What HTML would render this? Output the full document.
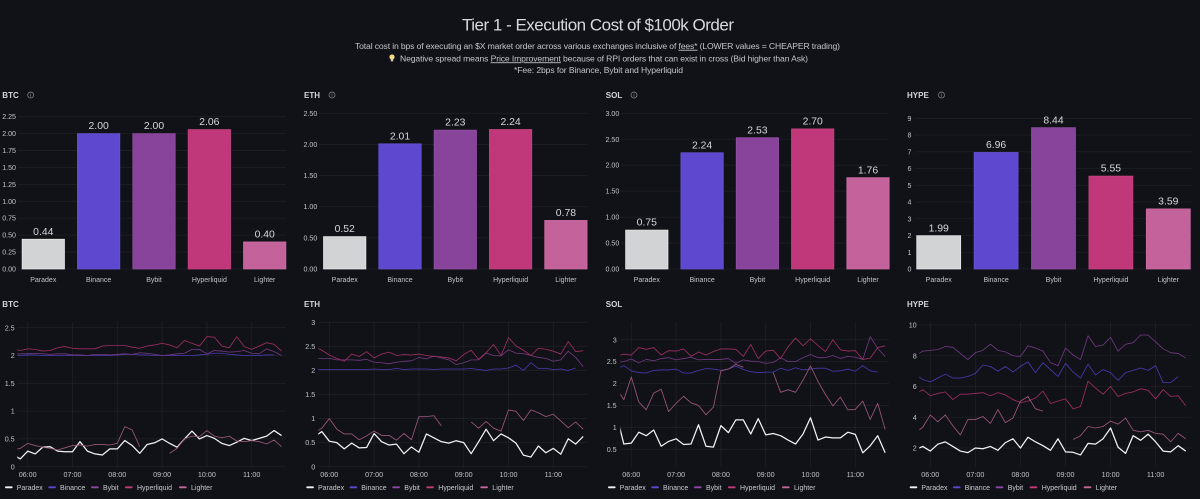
<!DOCTYPE html>
<html lang="en">
<head>
<meta charset="utf-8">
<title>Tier 1 - Execution Cost of $100k Order</title>
<style>
html,body{margin:0;padding:0;background:#111217;width:1200px;height:499px;overflow:hidden}
svg{display:block;font-family:"Liberation Sans",sans-serif;filter:blur(0.3px)}
</style>
</head>
<body>
<svg id="dash" width="1200" height="499" viewBox="0 0 1200 499" xmlns="http://www.w3.org/2000/svg">
  <rect width="1200" height="499" fill="#111217"/>
  <text x="598" y="30.5" text-anchor="middle" font-size="17" fill="#d8d9de" textLength="272" lengthAdjust="spacing">Tier 1 - Execution Cost of $100k Order</text>
  <text x="597.5" y="48.8" text-anchor="middle" font-size="8.6" fill="#c4c5cc" textLength="485" lengthAdjust="spacing">Total cost in bps of executing an $X market order across various exchanges inclusive of <tspan text-decoration="underline">fees*</tspan> (LOWER values = CHEAPER trading)</text>
  <g>
    <circle cx="392" cy="57" r="2.6" fill="#f5d98a"/>
    <rect x="390.8" y="59.2" width="2.4" height="2.2" fill="#cfc9b0"/>
  </g>
  <text x="400" y="61.3" font-size="8.6" fill="#c4c5cc" textLength="408" lengthAdjust="spacing">Negative spread means <tspan text-decoration="underline">Price Improvement</tspan> because of RPI orders that can exist in cross (Bid higher than Ask)</text>
  <text x="514" y="73.2" font-size="8.6" fill="#c4c5cc" textLength="169" lengthAdjust="spacing">*Fee: 2bps for Binance, Bybit and Hyperliquid</text>
  <g id="bars-root"></g>
  <g id="lines-root"></g>
</svg>
<script>
// ---------- shared categories ----------
const exchanges = ["Paradex", "Binance", "Bybit", "Hyperliquid", "Lighter"];
const hourLabels = ["06:00", "07:00", "08:00", "09:00", "10:00", "11:00"];
const hourOffsets = [0, 60, 120, 180, 240, 300];

// ---------- bar chart values (bps) ----------
const barBTC = [0.44, 2.00, 2.00, 2.06, 0.40];
const barETH = [0.52, 2.01, 2.23, 2.24, 0.78];
const barSOL = [0.75, 2.24, 2.53, 2.70, 1.76];
const barHYPE = [1.99, 6.96, 8.44, 5.55, 3.59];

const barTicksBTC = ["0.00", "0.25", "0.50", "0.75", "1.00", "1.25", "1.50", "1.75", "2.00", "2.25"];
const barTicksETH = ["0.00", "0.50", "1.00", "1.50", "2.00", "2.50"];
const barTicksSOL = ["0.00", "0.50", "1.00", "1.50", "2.00", "2.50", "3.00"];
const barTicksHYPE = ["0", "1", "2", "3", "4", "5", "6", "7", "8", "9"];

const lineTicksBTC = ["0", "0.5", "1", "1.5", "2", "2.5"];
const lineTicksETH = ["0", "0.5", "1", "1.5", "2", "2.5", "3"];
const lineTicksSOL = ["0.5", "1", "1.5", "2", "2.5", "3"];
const lineTicksHYPE = ["2", "4", "6", "8", "10"];

// ---------- time series: 10-minute samples, 05:40 through 11:40 ----------
const btcParadex = [0.22,0.14,0.28,0.23,0.35,0.36,0.28,0.27,
  0.27,0.45,0.28,0.23,0.21,0.32,
  0.32,0.47,0.38,0.24,0.40,0.43,
  0.50,0.42,0.35,0.50,0.64,0.50,
  0.56,0.51,0.42,0.38,0.44,0.51,
  0.47,0.51,0.55,0.65,0.56];
const btcBinance = [2.00,2.00,2.01,2.01,2.00,2.00,2.00,2.00,
  2.00,2.00,2.00,2.00,2.00,2.00,
  2.01,2.02,2.02,2.01,2.01,2.00,
  2.00,2.00,2.00,2.00,2.00,2.01,
  2.02,2.04,2.04,2.02,2.01,2.00,
  2.00,2.00,2.01,2.01,null];
const btcBybit = [2.02,2.03,2.03,2.04,2.03,2.02,2.03,2.03,
  2.01,2.01,2.00,2.02,2.02,2.01,
  2.02,2.03,2.02,2.05,2.04,2.02,
  2.00,2.01,2.03,2.04,2.11,2.11,
  2.03,2.09,2.08,2.06,2.07,2.09,
  2.04,2.03,2.12,2.07,2.00];
const btcHyperliquid = [2.12,2.09,2.12,2.11,2.08,2.09,2.14,2.16,
  2.13,2.12,2.12,2.12,2.17,2.18,
  2.18,2.18,2.15,2.13,2.17,2.19,
  2.22,2.19,2.14,2.27,2.22,2.17,
  2.34,2.33,2.17,2.14,2.34,2.16,
  2.11,2.17,2.23,2.20,2.08];
const btcLighter = [0.30,0.33,0.42,0.38,0.35,0.33,0.30,0.34,
  0.38,0.39,0.37,0.40,0.40,0.39,
  0.42,0.72,0.66,0.36,null,null,
  null,0.24,0.33,0.50,0.55,0.54,
  0.65,0.55,0.52,0.55,0.46,0.45,
  0.47,0.45,0.41,0.48,0.36];

const ethParadex = [0.62,0.73,0.53,0.50,0.37,0.49,0.39,0.40,
  0.69,0.52,0.45,0.47,0.27,0.41,
  0.30,0.68,0.60,0.52,0.49,0.54,
  0.50,0.27,0.52,0.78,0.54,0.68,
  0.60,0.49,0.24,0.20,0.43,0.29,
  0.38,0.26,0.58,0.47,0.63];
const ethBinance = [2.02,2.02,2.02,2.02,2.02,2.02,2.02,2.02,
  2.03,2.02,2.02,2.04,2.02,2.03,
  2.03,2.03,2.02,2.03,2.03,2.03,
  2.03,2.04,2.02,2.00,2.03,2.03,
  2.05,2.11,2.00,2.16,2.04,2.04,
  2.02,2.03,2.00,2.05,null];
const ethBybit = [2.25,2.25,2.25,2.22,2.22,2.22,2.21,2.23,
  2.17,2.16,2.14,2.17,2.19,2.20,
  2.27,2.24,2.30,2.26,2.22,2.12,
  2.16,2.22,2.22,2.36,2.31,2.30,
  2.43,2.36,2.35,2.31,2.27,2.25,
  2.19,2.22,2.40,2.27,2.08];
const ethHyperliquid = [2.50,2.42,2.32,2.25,2.19,2.34,2.29,2.39,
  2.26,2.34,2.38,2.31,2.33,2.32,
  2.34,2.31,2.29,2.28,2.26,2.20,
  2.33,2.42,2.23,2.37,2.54,2.31,
  2.68,2.51,2.42,2.31,2.46,2.44,
  2.40,2.34,2.60,2.39,2.41];
const ethLighter = [0.70,0.80,1.00,0.78,0.68,0.68,0.56,0.64,
  0.74,0.65,0.65,0.55,0.69,0.56,
  1.04,1.04,1.06,0.85,null,null,
  null,0.93,0.80,0.94,0.80,0.74,
  1.18,1.15,0.96,1.18,1.12,1.04,
  1.09,0.95,0.81,0.93,0.78];

const solParadex = [1.30,0.62,0.64,0.89,0.81,0.94,0.57,0.68,
  0.74,0.61,0.62,1.06,0.57,0.55,
  1.04,0.88,1.17,1.17,0.85,1.20,
  0.83,0.86,0.81,0.71,0.62,0.85,
  1.22,0.71,0.78,0.76,0.76,0.89,
  0.84,0.42,0.58,0.81,0.42];
const solBinance = [2.33,2.41,2.29,2.25,2.24,2.30,2.31,2.31,
  2.33,2.24,2.24,2.30,2.34,2.33,
  2.30,2.33,2.40,2.32,2.27,2.25,
  2.26,2.26,2.35,2.30,2.36,2.31,
  2.33,2.35,2.35,2.28,2.29,2.33,
  2.28,2.41,2.29,2.26,null];
const solBybit = [2.48,2.50,2.56,2.47,2.55,2.52,2.57,2.59,
  2.54,2.57,2.60,2.54,2.55,2.55,
  2.55,2.57,2.46,2.54,2.51,2.50,
  2.46,2.48,2.59,2.50,2.50,2.59,
  2.66,2.59,2.59,2.64,2.57,2.62,
  2.60,2.55,3.07,2.80,2.62];
const solHyperliquid = [2.63,2.67,2.65,2.82,2.78,2.82,2.65,2.75,
  2.74,2.79,2.62,2.72,2.65,2.73,
  2.79,2.79,2.78,2.62,2.89,2.57,
  2.74,2.76,2.57,2.84,3.04,2.86,
  3.02,2.87,2.73,3.00,2.77,2.74,
  2.75,2.55,2.58,2.82,2.86];
const solLighter = [1.90,1.63,2.15,1.58,1.40,1.78,1.87,1.36,
  1.55,1.71,1.56,1.50,1.29,1.46,
  2.29,2.33,2.44,2.37,null,null,
  null,2.25,1.80,1.86,1.80,2.08,
  2.40,2.05,1.75,1.49,1.69,1.40,
  1.41,1.60,1.18,1.55,0.95];

const hypeParadex = [1.90,2.10,1.80,2.25,2.40,2.10,1.80,1.70,
  2.00,1.95,2.10,1.85,2.35,2.60,
  2.00,2.70,2.40,2.15,1.85,2.60,
  1.75,1.72,1.55,2.30,2.25,2.60,
  3.30,2.05,1.65,2.80,2.50,2.90,
  2.40,1.80,1.75,2.15,1.80];
const hypeBinance = [6.80,6.45,6.30,6.55,6.80,6.55,6.55,6.65,
  6.85,7.40,7.30,7.00,7.30,6.95,
  7.30,7.60,6.90,7.55,7.10,6.65,
  7.50,6.95,6.55,7.45,6.75,7.10,
  6.90,6.40,6.90,7.05,7.20,7.05,
  7.35,6.25,6.25,6.65,null];
const hypeBybit = [8.00,8.30,8.35,8.40,8.60,8.55,8.15,7.75,
  8.20,8.35,8.75,8.35,8.25,8.00,
  7.95,8.65,8.50,8.30,7.55,7.35,
  8.50,8.05,7.75,9.30,8.60,8.70,
  9.20,8.30,8.75,8.85,9.35,9.35,
  8.90,8.45,8.20,8.15,7.85];
const hypeHyperliquid = [5.50,5.80,5.40,5.55,5.65,5.15,5.50,5.50,
  5.55,5.60,5.40,5.60,5.45,5.15,
  4.95,5.05,5.25,5.70,4.90,5.05,
  5.20,4.55,4.70,6.35,5.90,5.50,
  6.00,5.35,5.55,5.65,5.85,5.75,
  5.20,5.80,5.35,5.40,4.75];
const hypeLighter = [3.00,3.35,4.15,3.70,4.15,3.45,2.85,3.85,
  3.85,4.05,3.60,4.50,3.65,3.95,
  5.05,5.35,4.55,4.40,null,null,
  null,2.55,2.80,3.40,3.30,3.40,
  3.75,3.55,3.95,3.15,3.05,3.15,
  2.95,2.90,2.40,2.95,2.60];

// ---------- styling (not data) ----------
const barFill = ["#d2d3d5", "#5e48cf", "#88449b", "#c0387a", "#c4629b"];
const barEdge = ["#ececee", "#6a55dc", "#9650a8", "#ce4486", "#d06ea6"];
const lineColor = ["#f2f2f4", "#483bb4", "#733a86", "#9c2d61", "#9a567b"];
const swatchColor = ["#f2f2f4", "#5b49d6", "#8f47a6", "#c23a78", "#c4689a"];
const lineWidth = [1.25, 0.8, 0.8, 0.85, 0.85];

const NS = "http://www.w3.org/2000/svg";
function make(parent, tag, attrs, text) {
  const el = document.createElementNS(NS, tag);
  for (const k in attrs) el.setAttribute(k, attrs[k]);
  if (text !== undefined) el.textContent = text;
  parent.appendChild(el);
  return el;
}
function scale(d0, d1, r0, r1) {
  return function (v) { return r0 + (v - d0) * (r1 - r0) / (d1 - d0); };
}
const TICK = "#c2c3ca";
const GRID = "rgba(204,204,220,0.075)";

// ---------- bar panels ----------
const barPanels = [
  {id:"btc", title:"BTC", tx:2.3, ix:30.7, values:barBTC, ticks:barTicksBTC, gl:18, gr:286, lab:16, c0:43.3, step:55.35, w:42.4, dMax:2.25, yMax:116.7},
  {id:"eth", title:"ETH", tx:304, ix:332, values:barETH, ticks:barTicksETH, gl:318.5, gr:587.5, lab:317.3, c0:344.7, step:55.3, w:42.4, dMax:2.5, yMax:113.3},
  {id:"sol", title:"SOL", tx:605.8, ix:634, values:barSOL, ticks:barTicksSOL, gl:620.5, gr:889, lab:619.3, c0:646.8, step:55.3, w:42.4, dMax:3, yMax:113.3},
  {id:"hype", title:"HYPE", tx:907, ix:941.5, values:barHYPE, ticks:barTicksHYPE, gl:915, gr:1192, lab:911.5, c0:938.7, step:57.4, w:44, dMax:9, yMax:118.3}
];
const barsRoot = document.getElementById("bars-root");
barPanels.forEach(function (p) {
  const g = make(barsRoot, "g", {});
  
  

  const title = make(g, "text", {x:p.tx, y:98, "font-size":8, "font-weight":"bold", fill:"#d4d5da"}, p.title);
  
  

  const info = make(g, "g", {});
  
  
  make(info, "circle", {cx:p.ix, cy:95, r:3, fill:"none", stroke:"#8b8c94", "stroke-width":0.7});
  make(info, "line", {x1:p.ix, x2:p.ix, y1:94.2, y2:96.6, stroke:"#8b8c94", "stroke-width":0.6});
  make(info, "circle", {cx:p.ix, cy:93.4, r:0.35, fill:"#8b8c94"});

  const y = scale(0, p.dMax, 269, p.yMax);
  p.ticks.forEach(function (t) {
    const v = parseFloat(t);
    const gl = make(g, "line", {x1:p.gl, x2:p.gr, y1:y(v), y2:y(v), stroke:GRID, "stroke-width":0.8});
    
    
    const tl = make(g, "text", {x:p.lab, y:y(v) + 2.5, "text-anchor":"end", "font-size":7.1, fill:TICK}, t);
    
    
  });

  exchanges.forEach(function (name, i) {
    const v = p.values[i];
    const cx = p.c0 + i * p.step;
    const key = name.toLowerCase();
    const bar = make(g, "rect", {x:cx - p.w / 2, y:y(v), width:p.w, height:y(0) - y(v), fill:barFill[i], stroke:barEdge[i], "stroke-width":0.7});
    
    
    const val = make(g, "text", {x:cx, y:y(v) - 4.4, "text-anchor":"middle", "font-size":10.4, fill:"#d6d7dc"}, v.toFixed(2));
    
    
    const cat = make(g, "text", {x:cx, y:281.8, "text-anchor":"middle", "font-size":7, fill:TICK}, name);
    
    
  });
});

// ---------- time series panels ----------
const linePanels = [
  {id:"btc", title:"BTC", tx:2.3, series:[btcParadex,btcBinance,btcBybit,btcHyperliquid,btcLighter], ticks:lineTicksBTC,
   left:17.3, right:286, h0:27.7, hour:44.8, lab:14.7, d0:0, y0:466.7, d1:2.5, y1:327.7, legend:0},
  {id:"eth", title:"ETH", tx:304, series:[ethParadex,ethBinance,ethBybit,ethHyperliquid,ethLighter], ticks:lineTicksETH,
   left:318.3, right:587, h0:329.3, hour:44.8, lab:315.3, d0:0, y0:466.7, d1:3, y1:322.3, legend:301.3},
  {id:"sol", title:"SOL", tx:605.8, series:[solParadex,solBinance,solBybit,solHyperliquid,solLighter], ticks:lineTicksSOL,
   left:620.3, right:889, h0:631.3, hour:44.8, lab:616.7, d0:0.5, y0:449.3, d1:3, y1:339.7, legend:603},
  {id:"hype", title:"HYPE", tx:907, series:[hypeParadex,hypeBinance,hypeBybit,hypeHyperliquid,hypeLighter], ticks:lineTicksHYPE,
   left:919.3, right:1191.7, h0:930.3, hour:45.07, lab:916.7, d0:2, y0:448, d1:10, y1:325, legend:904.7}
];
const legendSwatchX = [5, 48.3, 91, 125, 179];
const legendTextX = [16.7, 60, 103, 137, 191];
const linesRoot = document.getElementById("lines-root");
const startMinute = -20;
const sampleMinutes = 10;

linePanels.forEach(function (p) {
  const g = make(linesRoot, "g", {});
  
  

  const title = make(g, "text", {x:p.tx, y:307, "font-size":8, "font-weight":"bold", fill:"#d4d5da"}, p.title);
  
  

  const y = scale(p.d0, p.d1, p.y0, p.y1);
  const x = function (minute) { return p.h0 + minute * p.hour / 60; };
  const top = 322, bottom = 466.7;

  p.ticks.forEach(function (t) {
    const v = parseFloat(t);
    const gl = make(g, "line", {x1:p.left, x2:p.right, y1:y(v), y2:y(v), stroke:GRID, "stroke-width":0.8});
    
    
    const tl = make(g, "text", {x:p.lab, y:y(v) + 2.6, "text-anchor":"end", "font-size":7.2, fill:TICK}, t);
    
    
  });
  hourLabels.forEach(function (label, i) {
    const px = x(hourOffsets[i]);
    const gl = make(g, "line", {x1:px, x2:px, y1:top, y2:bottom, stroke:GRID, "stroke-width":0.8});
    
    
    const tl = make(g, "text", {x:px, y:476.8, "text-anchor":"middle", "font-size":7.2, fill:TICK}, label);
    
    
  });

  const clipId = "clip-" + p.id;
  const clip = make(g, "clipPath", {id:clipId});
  make(clip, "rect", {x:p.left, y:top - 4, width:p.right - p.left, height:bottom - top + 8});

  p.series.forEach(function (values, s) {
    let d = "", pen = false;
    values.forEach(function (v, i) {
      if (v === null) { pen = false; return; }
      d += (pen ? "L" : "M") + x(startMinute + i * sampleMinutes).toFixed(2) + " " + y(v).toFixed(2);
      pen = true;
    });
    const path = make(g, "path", {d:d, fill:"none", stroke:lineColor[s], "stroke-width":lineWidth[s], "stroke-linejoin":"round", "clip-path":"url(#" + clipId + ")"});
    
    
  });

  exchanges.forEach(function (name, i) {
    const entry = make(g, "g", {});
    
    
    make(entry, "rect", {x:legendSwatchX[i] + p.legend, y:486.4, width:7.6, height:1.9, rx:0.9, fill:swatchColor[i]});
    make(entry, "text", {x:legendTextX[i] + p.legend, y:489.8, "font-size":7, fill:"#c8c9d0"}, name);
  });
});
</script>
</body>
</html>
